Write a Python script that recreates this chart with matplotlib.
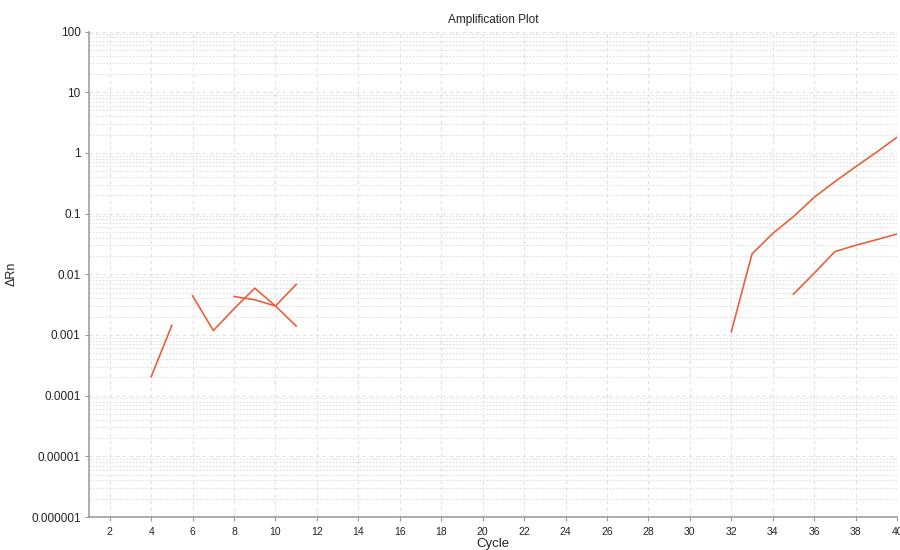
import matplotlib
matplotlib.use("Agg")
import matplotlib.pyplot as plt
import numpy as np
from matplotlib.ticker import LogLocator, NullFormatter

plt.rcParams['font.family'] = ['Liberation Sans', 'DejaVu Sans']

# Data (cycle, delta Rn)
s1_x = [4, 5]
s1_y = [2.05e-4, 1.44e-3]
s2_x = [6, 7, 8, 9, 10, 11]
s2_y = [4.4e-3, 1.18e-3, 2.7e-3, 5.9e-3, 3.0e-3, 6.8e-3]
s3_x = [8, 9, 10, 11]
s3_y = [4.3e-3, 3.8e-3, 3.0e-3, 1.4e-3]
s4_x = [32, 33, 34, 35, 36, 37, 38, 39, 40]
s4_y = [1.13e-3, 0.0216, 0.047, 0.089, 0.185, 0.336, 0.59, 1.02, 1.81]
s5_x = [35, 36, 37, 38, 39, 40]
s5_y = [4.7e-3, 0.0104, 0.0236, 0.030, 0.037, 0.046]

xticks = list(range(2, 41, 2))
yticks = [1e-6, 1e-5, 1e-4, 1e-3, 1e-2, 1e-1, 1, 10, 100]
ytick_labels = ["0.000001", "0.00001", "0.0001", "0.001", "0.01", "0.1", "1", "10", "100"]

line_color = "#E8603C"

fig = plt.figure(figsize=(9, 5.5), dpi=100)
ax = fig.add_axes([0.0989, 0.06, 0.8978, 0.8827])

for xs, ys in [(s1_x, s1_y), (s2_x, s2_y), (s3_x, s3_y), (s4_x, s4_y), (s5_x, s5_y)]:
    ax.plot(xs, ys, color=line_color, lw=1.2, zorder=3)

ax.set_yscale("log")
ax.set_xlim(1, 40)
ax.set_ylim(1e-6, 100)
ax.set_xticks(xticks)
ax.set_xticklabels([str(t) for t in xticks])
ax.set_yticks(yticks)
ax.set_yticklabels(ytick_labels)
ax.yaxis.set_minor_locator(LogLocator(base=10, subs=np.arange(2, 10), numticks=100))
ax.yaxis.set_minor_formatter(NullFormatter())

ax.grid(True, which="major", axis="both", color="#e0e0e0", linestyle=(0, (3, 3)), lw=0.8)
ax.grid(True, which="minor", axis="y", color="#e0e0e0", linestyle=(0, (1.5, 1.5)), lw=0.8)
ax.tick_params(axis="y", which="minor", length=0)
ax.tick_params(axis="both", which="major", length=3, color="#999999", labelcolor="#222222", pad=3)
ax.tick_params(axis="y", which="major", labelsize=8.5)
ax.tick_params(axis="x", which="major", labelsize=7.5, pad=4)

for s in ["top", "right"]:
    ax.spines[s].set_visible(False)
for s in ["left", "bottom"]:
    ax.spines[s].set_color("#a0a0a0")
    ax.spines[s].set_linewidth(1.2)

ax.set_title("Amplification Plot", fontsize=8.5, color="#222222", pad=6)
ax.set_xlabel("Cycle", fontsize=9.5, color="#222222", labelpad=1)
ax.set_ylabel("ΔRn", fontsize=9, color="#222222", labelpad=10)

fig.savefig("out.png", dpi=100)
